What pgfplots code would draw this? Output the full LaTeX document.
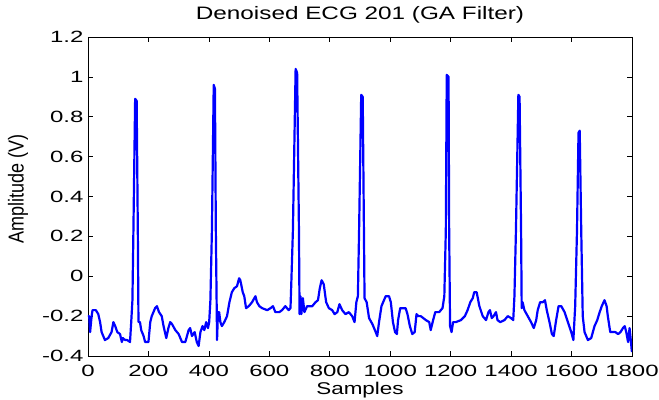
\documentclass[border=0pt]{standalone}
\usepackage{fontspec}
\usepackage{graphicx}
\usepackage{pgfplots}
\pgfplotsset{compat=1.18}
\setmainfont{Liberation Sans}
\newfontfamily\tickfont{Liberation Sans}[FakeStretch=1.47]
\newfontfamily\titlefont{Liberation Sans}[FakeStretch=1.35]
\newfontfamily\labfont{Liberation Sans}[FakeStretch=1.32]
\definecolor{ecgblue}{RGB}{0,0,255}
\begin{document}
\begin{tikzpicture}
\useasboundingbox (-88bp,-44bp) rectangle (571bp,356bp);
\begin{axis}[
  scale only axis,
  width=544bp, height=319bp,
  xmin=0, xmax=1800, ymin=-0.4, ymax=1.2,
  xtick={0,200,400,600,800,1000,1200,1400,1600,1800},
  ytick={-0.4,-0.2,0,0.2,0.4,0.6,0.8,1,1.2},
  tick align=inside,
  major tick length=5bp,
  axis line style={line width=0.8bp, black},
  every tick/.style={black, line width=0.6bp},
  /pgf/number format/assume math mode=true,
  /pgf/number format/1000 sep={},
  tick label style={font=\tickfont\fontsize{16.3bp}{18bp}\selectfont},
  xticklabel style={anchor=base, yshift=-20.7bp},
  yticklabel style={anchor=east, xshift=-1bp},
  title={Denoised ECG 201 (GA Filter)},
  title style={at={(axis description cs:0.5,1)}, anchor=base, yshift=12bp,
    font=\titlefont\fontsize{18bp}{20bp}\selectfont},
  xlabel={Samples},
  xlabel style={at={(axis description cs:0.5,0)}, anchor=base, yshift=-38bp,
    font=\labfont\fontsize{17bp}{19bp}\selectfont},
  ylabel={\scalebox{1}[1.2]{Amplitude (V)}},
  ylabel style={at={(axis description cs:-0.1287,0.5235)}, anchor=center,
    font=\fontsize{18bp}{20bp}\selectfont},
]
\addplot[ecgblue, line width=2.2bp, sharp plot, line join=round] coordinates {
(0,-0.20) (4,-0.20) (7,-0.28) (12,-0.20) (15,-0.17) (26,-0.17) (34,-0.19) (40,-0.23) (45,-0.28)
(56,-0.32) (67,-0.31) (78,-0.28) (84,-0.23) (90,-0.25) (97,-0.28) (106,-0.29)
(112,-0.33) (115,-0.31) (123,-0.32) (130,-0.32) (139,-0.33) (143,-0.23) (147,-0.12) (150,0.20)
(156,0.89) (161,0.88) (165,0.20) (167,-0.23) (172,-0.23) (176,-0.27)
(184,-0.30) (189,-0.33) (200,-0.33) (206,-0.23) (211,-0.20) (222,-0.16)
(228,-0.15) (235,-0.18) (244,-0.20) (250,-0.25) (259,-0.31) (266,-0.26)
(272,-0.23) (278,-0.24) (289,-0.27) (300,-0.29) (311,-0.33) (322,-0.33)
(333,-0.27) (338,-0.26) (344,-0.30) (353,-0.28) (360,-0.33) (366,-0.35)
(372,-0.28) (379,-0.25) (385,-0.27) (391,-0.23) (397,-0.26) (401,-0.23)
(405,-0.12) (410,0.23) (416,0.96) (420,0.94) (423,0.23) (427,-0.32)
(430,-0.18) (434,-0.18) (438,-0.23) (443,-0.25) (451,-0.23) (460,-0.20)
(468,-0.13) (476,-0.08) (484,-0.06) (493,-0.05) (500,-0.01) (504,-0.02)
(512,-0.08) (517,-0.10) (523,-0.16) (532,-0.15) (543,-0.13) (554,-0.10)
(559,-0.13) (567,-0.15) (576,-0.16) (593,-0.17) (604,-0.16) (612,-0.15)
(620,-0.18) (633,-0.18) (642,-0.17) (653,-0.15) (664,-0.17) (670,-0.16)
(673,-0.02) (678,0.23) (687,1.04) (692,1.02) (698,0.23) (700,-0.19)
(703,-0.10) (706,-0.19) (711,-0.11) (716,-0.18) (725,-0.15) (742,-0.15)
(753,-0.13) (761,-0.12) (767,-0.06) (773,-0.02) (780,-0.04) (788,-0.13)
(797,-0.16) (808,-0.17) (816,-0.19) (825,-0.18) (832,-0.14) (841,-0.17)
(852,-0.19) (863,-0.18) (874,-0.20) (882,-0.23) (888,-0.13) (893,-0.10)
(897,0.23) (904,0.91) (909,0.90) (913,0.23) (915,-0.11) (922,-0.13)
(930,-0.21) (941,-0.24) (952,-0.28) (957,-0.30) (963,-0.23) (971,-0.15)
(985,-0.10) (996,-0.10) (1002,-0.13) (1009,-0.23) (1016,-0.28) (1022,-0.29)
(1026,-0.22) (1033,-0.16) (1051,-0.16) (1057,-0.19) (1065,-0.25) (1073,-0.29)
(1081,-0.28) (1087,-0.19) (1093,-0.20) (1101,-0.20) (1118,-0.22) (1129,-0.23)
(1134,-0.27) (1142,-0.22) (1149,-0.18) (1162,-0.18) (1173,-0.16) (1179,-0.10)
(1184,0.23) (1187,1.01) (1193,1.00) (1195,0.23) (1198,-0.25) (1203,-0.28)
(1208,-0.23) (1217,-0.23) (1234,-0.22) (1247,-0.20) (1256,-0.17) (1265,-0.13)
(1273,-0.11) (1278,-0.08) (1286,-0.08) (1295,-0.15) (1306,-0.20) (1317,-0.22)
(1325,-0.18) (1330,-0.17) (1336,-0.21) (1342,-0.20) (1350,-0.18) (1355,-0.22)
(1364,-0.23) (1378,-0.22) (1389,-0.20) (1400,-0.21) (1407,-0.22) (1411,-0.10)
(1416,0.23) (1424,0.91) (1428,0.90) (1433,0.23) (1435,-0.16) (1438,-0.13)
(1444,-0.17) (1455,-0.20) (1466,-0.23) (1475,-0.26) (1483,-0.22) (1488,-0.17)
(1496,-0.13) (1505,-0.13) (1512,-0.12) (1518,-0.17) (1527,-0.23) (1535,-0.29)
(1541,-0.30) (1549,-0.22) (1557,-0.15) (1566,-0.15) (1577,-0.18) (1588,-0.23)
(1599,-0.28) (1606,-0.32) (1612,-0.15) (1618,0.23) (1623,0.72) (1627,0.73)
(1632,0.23) (1637,-0.20) (1643,-0.28) (1654,-0.32) (1665,-0.31) (1676,-0.25)
(1685,-0.22) (1693,-0.18) (1700,-0.15) (1709,-0.12) (1716,-0.15) (1720,-0.20)
(1728,-0.28) (1737,-0.28) (1745,-0.28) (1754,-0.29) (1762,-0.28) (1770,-0.26)
(1776,-0.25) (1781,-0.28) (1787,-0.33) (1792,-0.26) (1796,-0.32) (1799,-0.37)
(1800,-0.38)
};
\end{axis}
\end{tikzpicture}
\end{document}
